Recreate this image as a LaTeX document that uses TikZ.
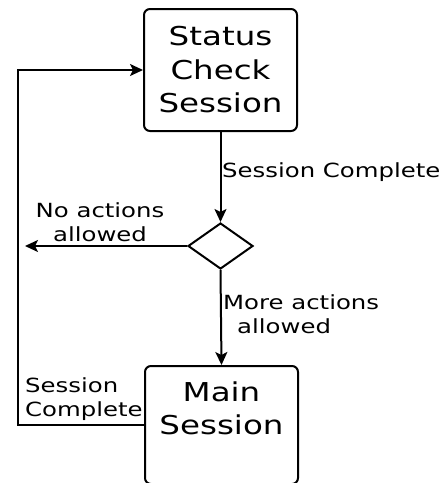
\documentclass[tikz,border=0pt]{standalone}
\usepackage{fontspec}
\newfontfamily\flowfont[FakeStretch=1.25]{DejaVu Sans}
\usetikzlibrary{arrows,arrows.meta,shapes,positioning}

\begin{document}
\begin{tikzpicture}[
        x=1pt, y=-1pt,
        session/.style={draw, line width=2pt, rounded corners=6pt, align=center, minimum width=153pt,
            font=\flowfont\fontsize{26}{33.5}\selectfont, inner sep=0pt},
        decision/.style={draw, line width=2pt, diamond, minimum width=65pt, minimum height=46pt, inner sep=0pt},
        edgelabel/.style={inner sep=0pt, font=\flowfont\fontsize{19.5}{24}\selectfont},
        flow/.style={line width=2pt, -{Stealth[length=13pt,width=12pt,inset=3pt]}}
    ]
    \useasboundingbox (0,0) rectangle (444,483);

    % Nodes
    \node[session, minimum height=122pt] (status) at (220.5,70) {Status\\Check\\Session};
    \node[decision, below=90pt of status] (check) {};
    \node[session, minimum height=118pt, below=95pt of check, xshift=1pt] (main) {Main\\Session\\\mbox{}};

    \coordinate (noexit) at (25,0 |- check.west);
    \coordinate (loop) at (18,0 |- main.west);

    % Edges
    \draw[flow] (status.south) -- (check.north);
    \draw[flow] (check.west) -- (noexit);
    \draw[flow] (check.south) -- (main.north);
    \draw[flow] (main.west) -- (loop) |- (status.west);

    % Labels
    \node[edgelabel, anchor=base west] (donelbl) at (222,177) {Session Complete};
    \node[edgelabel, align=center, anchor=base] (nolbl) at (100,241) {No actions\\allowed};
    \node[edgelabel, align=left, anchor=base west] (morelbl) at (223,333) {More actions\\\hspace*{14pt}allowed};
    \node[edgelabel, align=left, anchor=base west] (backlbl) at (25,416) {Session\\Complete};
\end{tikzpicture}
\end{document}
